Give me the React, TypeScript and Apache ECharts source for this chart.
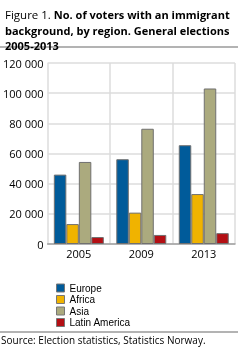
import React, { useEffect, useRef } from "react";
import * as echarts from "echarts";

const years = ["2005", "2009", "2013"];
const europe = [46000, 56200, 65500];
const africa = [13200, 20800, 33100];
const asia = [54400, 76400, 103100];
const latinAmerica = [4600, 6000, 7200];
const seriesNames = ["Europe", "Africa", "Asia", "Latin America"];
const colors = ["#005b9a", "#f0b300", "#abaa7e", "#b40f14"];

const FONT = "'Open Sans', 'Noto Sans', sans-serif";
const LFONT = "'Liberation Sans', Arial, sans-serif";

export default function App() {
  const ref = useRef<HTMLDivElement>(null);
  useEffect(() => {
    if (!ref.current) return;
    const chart = echarts.init(ref.current, undefined, { renderer: "svg" });
    const data = [europe, africa, asia, latinAmerica];
    chart.setOption({
      animation: false,
      textStyle: { fontFamily: FONT },
      title: {
        left: 0,
        top: 2,
        text:
          "{a|Figure 1. }{b|No. of voters with an immigrant}\n{b|background, by region. General elections}\n{b|2005-2013}",
        textStyle: {
          rich: {
            a: { fontFamily: FONT, fontSize: 11.5, fontWeight: "normal", color: "#000", lineHeight: 15.5 },
            b: { fontFamily: FONT, fontSize: 11, fontWeight: "bold", color: "#000", lineHeight: 15.5 },
          },
        },
      },
      graphic: [
        { type: "line", shape: { x1: 0, y1: 47, x2: 238, y2: 47 }, style: { stroke: "#9a9a9a", lineWidth: 1.5 } },
        { type: "line", shape: { x1: 0, y1: 332, x2: 238, y2: 332 }, style: { stroke: "#9a9a9a", lineWidth: 1.5 } },
        {
          type: "text",
          left: 1,
          top: 335,
          style: { text: "Source: Election statistics, Statistics Norway.", fontFamily: FONT, fontSize: 10, fill: "#000" },
        },
      ],
      legend: {
        orient: "vertical",
        left: 51,
        top: 277.5,
        itemWidth: 8,
        itemHeight: 8,
        itemGap: 0.5,
        icon: "rect",
        data: seriesNames,
        textStyle: { fontFamily: LFONT, fontSize: 10, color: "#000", lineHeight: 11, padding: [0, 0, 0, 0] },
        itemStyle: { borderColor: "#777", borderWidth: 1 },
      },
      grid: { left: 46, right: 5, top: 63, bottom: 105 },
      xAxis: {
        type: "category",
        data: years,
        axisTick: { show: false },
        axisLine: { lineStyle: { color: "#a0a0a0", width: 1.5 } },
        axisLabel: { color: "#000", fontSize: 11, fontFamily: FONT, margin: 4 },
        splitLine: { show: true, lineStyle: { color: "#dddddd", width: 1.5 } },
      },
      yAxis: {
        type: "value",
        min: 0,
        max: 120000,
        interval: 20000,
        axisLine: { show: false },
        axisTick: { show: false },
        axisLabel: {
          color: "#000",
          fontSize: 11,
          fontFamily: FONT,
          margin: 4,
          formatter: (v: number) => String(v).replace(/\B(?=(\d{3})+(?!\d))/g, " "),
        },
        splitLine: { lineStyle: { color: "#dddddd", width: 1.5 } },
      },
      series: seriesNames.map((name, i) => ({
        name,
        type: "bar",
        data: data[i],
        barGap: "0%",
        barCategoryGap: "20%",
        itemStyle: { color: colors[i], borderColor: "#707070", borderWidth: 1 },
      })),
    });
    return () => chart.dispose();
  }, []);
  return <div ref={ref} style={{ position: "fixed", left: 0, top: 0, width: 240, height: 349 }} />;
}
